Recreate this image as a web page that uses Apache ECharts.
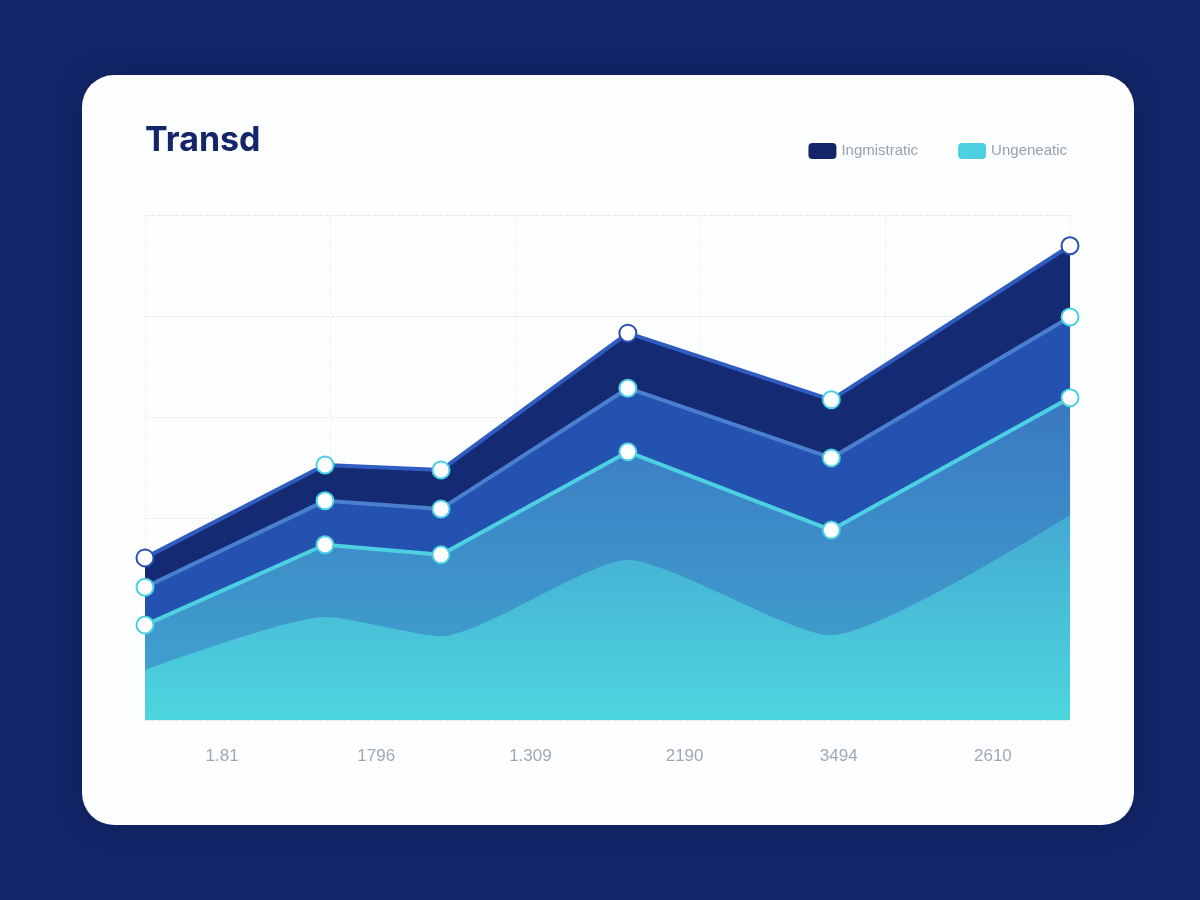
<!DOCTYPE html>
<html><head><meta charset="utf-8">
<script src="https://cdn.jsdelivr.net/npm/echarts@6/dist/echarts.min.js"></script>
<style>html,body{margin:0;background:#13266b;}#c{width:1200px;height:900px;}</style>
</head><body><div id="c"></div>
<script>
const tickLabels = ["1.81","1796","1.309","2190","3494","2610"];
const xPos = [0, 0.973, 1.6, 2.61, 3.71, 5];
const layer1 = [32.1, 50.5, 49.5, 76.6, 63.4, 93.9];
const layer2 = [26.3, 43.4, 41.8, 65.7, 51.9, 79.8];
const layer3 = [18.8, 34.7, 32.7, 53.1, 37.6, 63.8];
const layer4 = [9.9, 20.4, 16.6, 31.7, 16.8, 40.6];
const layer1Dots = ["#2a4fb5","#4dd0e1","#4dd0e1","#2a4fb5","#4dd0e1","#2a4fb5"];

const pts = a => a.map((v,i)=>[xPos[i], v]);
const grad = (a,b)=>({type:'linear',x:0,y:0,x2:0,y2:1,colorStops:[{offset:0,color:a},{offset:1,color:b}]});
const chart = echarts.init(document.getElementById('c'));
chart.setOption({
  backgroundColor:'#13266b',
  graphic:[
    {type:'rect',z:-10,shape:{x:82,y:75,width:1052,height:750,r:32},style:{fill:'#fdfeff',shadowBlur:30,shadowColor:'rgba(0,0,0,0.25)'}},
    {type:'text',left:145,top:124,style:{text:'Transd',fontSize:34,fontWeight:'bold',fill:'#14256a',fontFamily:'Inter'}}
  ],
  legend:{top:138,right:128,itemWidth:28,itemHeight:16,itemGap:40,icon:'roundRect',
    textStyle:{color:'#9aa0ab',fontSize:15,fontFamily:'Liberation Sans'},
    data:[{name:'Ingmistratic',itemStyle:{color:'#13266b'}},{name:'Ungeneatic',itemStyle:{color:'#4dd0e1'}}]},
  grid:{left:145,right:130,top:215,bottom:180},
  xAxis:[
    {type:'value',min:0,max:5,show:true,axisLabel:{show:false},axisTick:{show:false},axisLine:{show:false},
     splitLine:{show:true,lineStyle:{color:'#eef0f4',type:'dashed'}},interval:1},
    {type:'category',position:'bottom',data:tickLabels,boundaryGap:true,axisLine:{show:false},axisTick:{show:false},
     axisLabel:{color:'#a3a8b0',fontSize:17,margin:28,fontFamily:'Liberation Sans'}}
  ],
  yAxis:{type:'value',min:0,max:100,interval:20,axisLabel:{show:false},axisLine:{show:false},axisTick:{show:false},
    splitLine:{lineStyle:{color:'#e6e9ef',type:'dashed'}}},
  series:[
    {name:'Ingmistratic',type:'line',data:pts(layer1),symbolSize:17,z:1,
     lineStyle:{color:'#2f5cc0',width:4},areaStyle:{color:'#142a72',opacity:1},
     itemStyle:{color:p=>layer1Dots[p.dataIndex]}},
    {type:'line',data:pts(layer2),symbolSize:17,z:2,
     lineStyle:{color:'#4a7fd0',width:4},areaStyle:{color:'#2452b0',opacity:1},itemStyle:{color:'#4dd0e1'}},
    {name:'Ungeneatic',type:'line',data:pts(layer3),symbolSize:17,z:3,
     lineStyle:{color:'#4dd0e1',width:4},areaStyle:{color:grad('#3a78c2','#41a7d0'),opacity:1},itemStyle:{color:'#4dd0e1'}},
    {type:'line',data:pts(layer4),symbol:'none',z:4,smooth:0.2,
     lineStyle:{width:0},areaStyle:{color:grad('#44aad3','#4dd6de'),opacity:1}}
  ]
});
</script></body></html>
